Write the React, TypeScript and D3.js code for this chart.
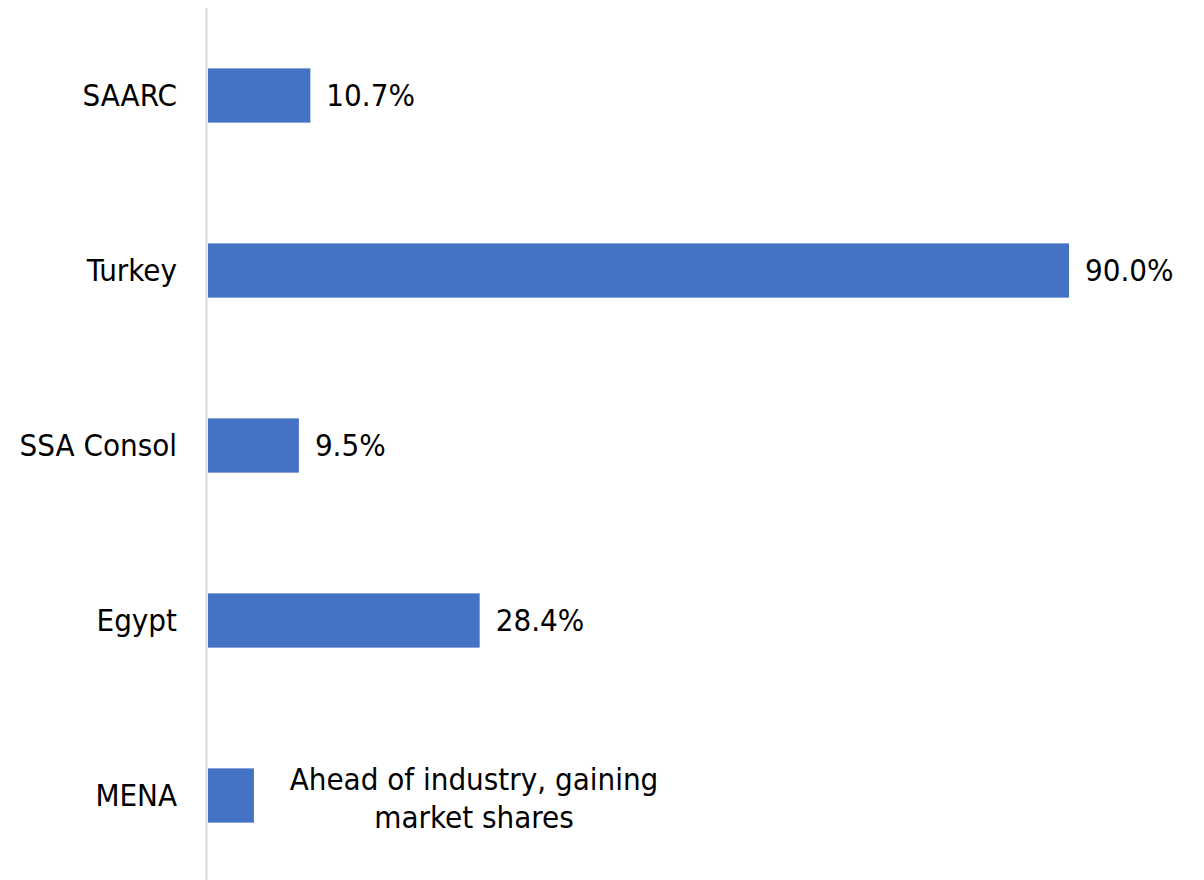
import React from "react";
import * as d3 from "d3";

const categories = ["SAARC", "Turkey", "SSA Consol", "Egypt", "MENA"];
const values = [10.7, 90.0, 9.5, 28.4, 4.8];
const valueLabels = ["10.7%", "90.0%", "9.5%", "28.4%", ""];
const menaNote = ["Ahead of industry, gaining", "market shares"];

const W = 1204;
const H = 880;
const FONT = "'DejaVu Sans Condensed', 'DejaVu Sans', sans-serif";

export default function App() {
  const x0 = 207;
  const x = d3.scaleLinear().domain([0, 90]).range([x0, 1068]);
  const y = d3
    .scaleBand<string>()
    .domain(categories)
    .range([8, 883])
    .paddingInner(0.69)
    .paddingOuter(0.345);
  const fs = 31;
  return (
    <svg
      width={W}
      height={H}
      style={{ position: "absolute", left: 0, top: 0, background: "#fff" }}
      fontFamily={FONT}
    >
      <line x1={206.5} x2={206.5} y1={8} y2={H} stroke="#d9d9d9" strokeWidth={2} />
      {categories.map((c, i) => {
        const by = y(c)!;
        const bh = y.bandwidth();
        const cy = by + bh / 2;
        return (
          <g key={c}>
            <rect x={x(0) + 1} y={by} width={x(values[i]) - x(0)} height={bh} fill="#4472c4" />
            <text x={177} y={cy} dy="0.35em" textAnchor="end" fontSize={fs} fill="#000">
              {c}
            </text>
            {valueLabels[i] && (
              <text x={x(values[i]) + 17} y={cy} dy="0.35em" fontSize={fs} fill="#000">
                {valueLabels[i]}
              </text>
            )}
          </g>
        );
      })}
      {menaNote.map((t, j) => (
        <text
          key={j}
          x={474}
          y={y("MENA")! + y.bandwidth() / 2 - 16 + j * 38}
          dy="0.35em"
          textAnchor="middle"
          fontSize={fs}
          fill="#000"
        >
          {t}
        </text>
      ))}
    </svg>
  );
}
